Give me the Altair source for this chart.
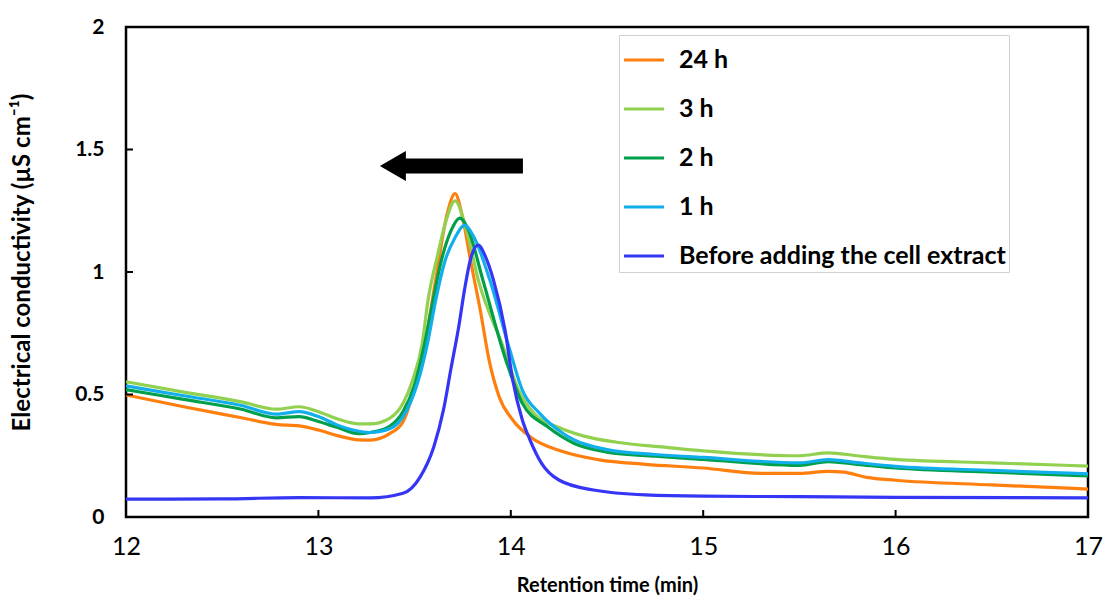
import altair as alt
import pandas as pd

# ---- data ----
series_names = ["24 h", "3 h", "2 h", "1 h", "Before adding the cell extract"]
series_colors = ["#FF7F0E", "#92D050", "#00A04A", "#12AEEB", "#3535F5"]

t_24h = [12.0, 12.3, 12.6, 12.78, 12.9, 13.0, 13.1, 13.21, 13.27, 13.37, 13.44, 13.49, 13.55, 13.61, 13.67,
         13.71, 13.75, 13.79, 13.84, 13.89, 13.94, 14.01, 14.10, 14.27, 14.46, 14.7, 15.0, 15.3, 15.5,
         15.65, 15.73, 15.85, 16.0, 16.5, 17.0]
v_24h = [0.498, 0.45, 0.405, 0.378, 0.372, 0.355, 0.332, 0.315, 0.314, 0.34, 0.389, 0.50, 0.69, 0.97, 1.24,
         1.32, 1.22, 1.05, 0.85, 0.63, 0.49, 0.396, 0.328, 0.267, 0.233, 0.215, 0.20, 0.178, 0.178,
         0.186, 0.183, 0.162, 0.15, 0.131, 0.114]

t_3h = [12.0, 12.3, 12.6, 12.78, 12.9, 13.0, 13.1, 13.21, 13.27, 13.37, 13.44, 13.49, 13.54, 13.57, 13.62,
        13.66, 13.71, 13.77, 13.83, 13.96, 14.04, 14.12, 14.25, 14.38, 14.55, 14.8, 15.0, 15.5, 15.65,
        15.8, 16.0, 16.5, 17.0]
v_3h = [0.552, 0.51, 0.47, 0.44, 0.45, 0.43, 0.40, 0.38, 0.38, 0.403, 0.464, 0.559, 0.71, 0.886, 1.07,
        1.2, 1.29, 1.17, 0.97, 0.695, 0.518, 0.423, 0.365, 0.33, 0.305, 0.285, 0.27, 0.25, 0.262,
        0.25, 0.235, 0.221, 0.208]

t_2h = [12.0, 12.3, 12.6, 12.78, 12.9, 13.0, 13.1, 13.21, 13.27, 13.37, 13.44, 13.50, 13.55, 13.59, 13.64,
        13.69, 13.735, 13.78, 13.855, 13.98, 14.06, 14.19, 14.33, 14.5, 14.75, 15.0, 15.5, 15.65, 15.8,
        16.0, 16.5, 17.0]
v_2h = [0.52, 0.48, 0.44, 0.405, 0.41, 0.39, 0.365, 0.34, 0.345, 0.37, 0.43, 0.54, 0.70, 0.86, 1.05,
        1.17, 1.22, 1.17, 0.967, 0.627, 0.464, 0.369, 0.30, 0.265, 0.248, 0.235, 0.211, 0.226, 0.215,
        0.20, 0.183, 0.168]

t_1h = [12.0, 12.3, 12.6, 12.78, 12.9, 13.0, 13.1, 13.21, 13.27, 13.37, 13.46, 13.52, 13.57, 13.61, 13.66,
        13.71, 13.76, 13.81, 13.89, 13.99, 14.06, 14.15, 14.27, 14.5, 14.75, 15.0, 15.5, 15.65, 15.8,
        16.0, 16.5, 17.0]
v_1h = [0.535, 0.495, 0.455, 0.42, 0.43, 0.41, 0.375, 0.35, 0.345, 0.36, 0.437, 0.559, 0.72, 0.886, 1.05,
        1.14, 1.19, 1.14, 0.97, 0.695, 0.518, 0.423, 0.342, 0.275, 0.255, 0.243, 0.221, 0.234, 0.222,
        0.207, 0.19, 0.176]

t_before = [12.0, 12.5, 12.9, 13.27, 13.44, 13.53, 13.60, 13.65, 13.69, 13.73, 13.76, 13.79, 13.83, 13.87,
            13.91, 13.97, 14.01, 14.06, 14.10, 14.16, 14.25, 14.43, 14.7, 15.0, 15.5, 16.0, 17.0]
v_before = [0.073, 0.074, 0.079, 0.078, 0.097, 0.165, 0.287, 0.437, 0.61, 0.78, 0.93, 1.05, 1.11, 1.06,
            0.967, 0.763, 0.559, 0.396, 0.314, 0.219, 0.151, 0.11, 0.09, 0.085, 0.083, 0.08, 0.078]

# arrow annotation (data coordinates)
arrow_shaft_x = [13.44, 14.063]
arrow_head_x = [13.387]
arrow_y = [1.433]

x_ticks = [12, 13, 14, 15, 16, 17]
y_ticks = [0, 0.5, 1, 1.5, 2]

# ---- build table ----
all_t = [t_24h, t_3h, t_2h, t_1h, t_before]
all_v = [v_24h, v_3h, v_2h, v_1h, v_before]
rows = []
for k, (name, ts, vs) in enumerate(zip(series_names, all_t, all_v)):
    for i, (t, v) in enumerate(zip(ts, vs)):
        rows.append({"series": name, "t": t, "v": v, "k": k, "i": i})
df = pd.DataFrame(rows)

shaft_df = pd.DataFrame({"t": [arrow_shaft_x[0]], "t2": [arrow_shaft_x[1]], "v": arrow_y})
head_df = pd.DataFrame({"t": arrow_head_x, "v": arrow_y})
xt_df = pd.DataFrame({"t": x_ticks})
yt_df = pd.DataFrame({"v": y_ticks})

W, H = 962, 490
FONT = "Lato"
TICK = 7

xscale = alt.Scale(domain=[12, 17], nice=False, zero=False)
yscale = alt.Scale(domain=[0, 2], nice=False, zero=False)

x_axis = alt.Axis(orient="bottom", values=x_ticks, format="d", ticks=False, domain=False,
                  grid=False, labelFont=FONT, labelFontSize=25, labelColor="#000",
                  labelPadding=17, labelFlush=False, title="Retention time (min)",
                  titleFont=FONT, titleFontSize=20, titleFontWeight="bold",
                  titleColor="#000", titleY=68, titleBaseline="middle")
y_axis = alt.Axis(orient="left", values=y_ticks, format=".2~f", ticks=False, domain=False,
                  grid=False, labelFont=FONT, labelFontSize=21, labelFontWeight="bold",
                  labelColor="#000", labelPadding=22, labelFlush=False,
                  title="Electrical conductivity (µS cm⁻¹)", titleFont=FONT,
                  titleFontSize=24, titleFontWeight="bold", titleColor="#000",
                  titleX=-104, titleY=235, titleBaseline="middle")

X = alt.X("t:Q", scale=xscale, axis=x_axis, title="Retention time (min)")
Y = alt.Y("v:Q", scale=yscale, axis=y_axis, title="Electrical conductivity (µS cm⁻¹)")

lines = alt.Chart(df).mark_line(interpolate="monotone", strokeWidth=3.2).encode(
    x=X,
    y=Y,
    color=alt.Color("series:N", sort=series_names,
                    scale=alt.Scale(domain=series_names, range=series_colors),
                    legend=alt.Legend(title=None, orient="none", legendX=493, legendY=8,
                                      symbolType="stroke", symbolSize=1600, symbolStrokeWidth=3.2,
                                      labelFont=FONT, labelFontSize=25, labelFontWeight="bold",
                                      labelColor="#000", labelOffset=13, rowPadding=14,
                                      padding=3, strokeColor="#D0D0D0", fillColor="white",
                                      labelLimit=500)),
    detail="k:N",
    order="i:Q",
)

shaft = alt.Chart(shaft_df).mark_rule(color="black", strokeWidth=15).encode(
    x=X, x2="t2:Q", y=Y,
)

head = alt.Chart(head_df).mark_point(shape="triangle-left", filled=True, color="black",
                                     size=900, opacity=1).encode(x=X, y=Y)

# inward-pointing tick marks
xticks_layer = alt.Chart(xt_df).mark_rule(color="black", strokeWidth=2).encode(
    x=X, y=alt.value(H), y2=alt.value(H - TICK),
)
yticks_layer = alt.Chart(yt_df).mark_rule(color="black", strokeWidth=2).encode(
    y=Y, x=alt.value(0), x2=alt.value(TICK),
)

chart = alt.layer(lines, shaft, head, xticks_layer, yticks_layer).properties(
    width=W, height=H,
    autosize=alt.AutoSizeParams(type="none"),
    padding={"left": 126, "top": 27, "right": 18, "bottom": 84},
    background="white",
).configure_view(
    stroke="black", strokeWidth=2.5
)

chart.save("out.html", embed_options={"renderer": "svg", "actions": False})
